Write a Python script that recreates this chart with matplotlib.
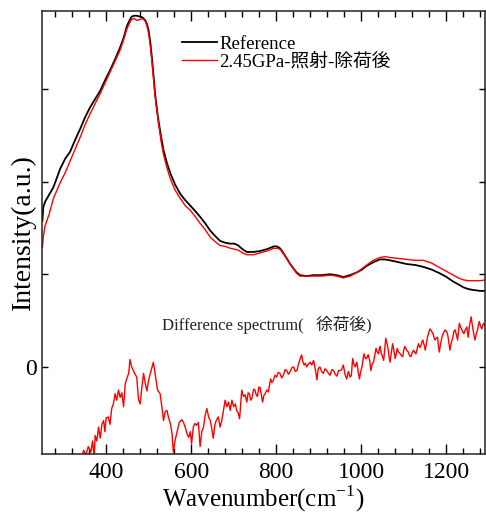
import matplotlib
matplotlib.use("Agg")
import matplotlib.pyplot as plt
from matplotlib.ticker import MultipleLocator, FixedLocator

plt.rcParams['font.family'] = ['Liberation Serif', 'Noto Sans CJK JP']

# spectra (arbitrary units, 0 = baseline of difference spectrum)
wn = [250, 252, 256, 266, 276, 292, 304, 315, 327, 339, 350, 362, 374, 386, 398,
      409, 421, 433, 441, 449, 455, 460, 466, 472, 480, 486, 492, 496, 500, 504,
      508, 512, 515, 519, 523, 529, 535, 543, 551, 562, 574, 586, 598, 610, 621,
      633, 645, 657, 668, 680, 692, 702, 711, 721, 731, 746, 762, 778, 794, 802,
      809, 817, 825, 833, 841, 848, 856, 872, 888, 907, 927, 942, 958, 974, 990,
      1002, 1013, 1029, 1044, 1056, 1068, 1088, 1107, 1127, 1146, 1166, 1185, 1201,
      1217, 1229, 1240, 1252, 1264, 1280, 1294]
ref = [1.58, 1.72, 1.78, 1.86, 1.94, 2.14, 2.25, 2.32, 2.45, 2.57, 2.69, 2.80, 2.89,
       2.98, 3.10, 3.20, 3.32, 3.45, 3.55, 3.68, 3.74, 3.78, 3.79, 3.79, 3.78, 3.77,
       3.74, 3.70, 3.63, 3.50, 3.32, 3.12, 2.95, 2.80, 2.66, 2.49, 2.34, 2.20, 2.09,
       1.97, 1.87, 1.80, 1.74, 1.68, 1.62, 1.55, 1.47, 1.41, 1.36, 1.34, 1.33, 1.33,
       1.31, 1.27, 1.24, 1.24, 1.25, 1.27, 1.30, 1.30, 1.28, 1.23, 1.17, 1.11, 1.06,
       1.02, 0.99, 0.98, 0.99, 0.99, 1.00, 0.99, 0.97, 0.99, 1.02, 1.05, 1.09, 1.13,
       1.16, 1.16, 1.15, 1.13, 1.11, 1.10, 1.08, 1.05, 1.01, 0.97, 0.92, 0.89, 0.86,
       0.84, 0.83, 0.82, 0.82]
irr = [1.29, 1.40, 1.52, 1.65, 1.82, 1.99, 2.10, 2.22, 2.35, 2.48, 2.61, 2.73, 2.84,
       2.95, 3.07, 3.18, 3.30, 3.42, 3.53, 3.65, 3.71, 3.75, 3.76, 3.74, 3.75, 3.76,
       3.73, 3.68, 3.60, 3.46, 3.28, 3.08, 2.93, 2.78, 2.64, 2.44, 2.29, 2.15, 2.03,
       1.91, 1.82, 1.74, 1.69, 1.62, 1.55, 1.48, 1.40, 1.35, 1.31, 1.30, 1.28, 1.27,
       1.26, 1.23, 1.21, 1.21, 1.23, 1.25, 1.28, 1.28, 1.27, 1.22, 1.17, 1.11, 1.06,
       1.01, 0.98, 0.98, 0.98, 0.98, 0.99, 0.98, 0.96, 0.98, 1.02, 1.06, 1.10, 1.15,
       1.18, 1.19, 1.18, 1.17, 1.16, 1.15, 1.15, 1.12, 1.07, 1.03, 0.99, 0.96, 0.94,
       0.93, 0.93, 0.93, 0.94]

diff_wn = [340, 347, 352, 358, 364, 368, 372, 374, 378, 382, 386, 390, 394, 397, 400,
           405, 409, 413, 417, 421, 425, 429, 433, 437, 441, 445, 449, 453, 456, 460,
           464, 468, 472, 476, 480, 484, 488, 492, 496, 500, 504, 507, 511, 515, 518,
           521, 527, 531, 535, 539, 543, 547, 551, 555, 558, 562, 566, 572, 578, 582,
           586, 590, 594, 598, 601, 605, 609, 613, 617, 621, 625, 629, 633, 637, 641,
           645, 648, 652, 656, 659, 664, 668, 672, 676, 680, 684, 688, 692, 696, 700,
           704, 707, 711, 714, 719, 723, 727, 731, 734, 737, 740, 743, 747, 750, 753,
           756, 759, 762, 765, 768, 771, 774, 778, 782, 785, 787, 790, 794, 797, 801,
           805, 809, 813, 817, 821, 825, 829, 833, 837, 841, 845, 849, 852, 856, 860,
           863, 866, 869, 872, 876, 880, 884, 888, 892, 896, 899, 903, 907, 911, 915,
           919, 923, 927, 931, 935, 939, 943, 947, 950, 954, 958, 962, 966, 970, 974,
           977, 980, 983, 986, 990, 993, 996, 999, 1002, 1005, 1007, 1010, 1013, 1015,
           1017, 1020, 1023, 1026, 1029, 1032, 1035, 1038, 1041, 1043, 1045, 1047, 1049,
           1051, 1053, 1056, 1058, 1061, 1064, 1066, 1068, 1071, 1074, 1077, 1080, 1083,
           1085, 1088, 1092, 1095, 1098, 1100, 1103, 1107, 1111, 1114, 1117, 1120, 1123,
           1126, 1129, 1132, 1135, 1138, 1140, 1143, 1145, 1148, 1151, 1154, 1156, 1159,
           1162, 1165, 1169, 1172, 1174, 1177, 1180, 1182, 1184, 1187, 1190, 1194, 1198,
           1201, 1203, 1206, 1209, 1212, 1216, 1218, 1221, 1224, 1227, 1229, 1231, 1234,
           1237, 1240, 1242, 1245, 1249, 1250, 1252, 1255, 1259, 1261, 1263, 1266, 1268,
           1271, 1274, 1276, 1278, 1281, 1284, 1287, 1289, 1292]
diff = [-1.00, -0.90, -0.95, -0.86, -0.92, -0.80, -0.98, -0.74, -0.80, -0.65, -0.77,
        -0.62, -0.58, -0.70, -0.55, -0.54, -0.62, -0.45, -0.40, -0.29, -0.36, -0.25,
        -0.33, -0.28, -0.43, -0.18, -0.12, -0.07, 0.08, 0.00, -0.04, -0.08, -0.11,
        -0.35, -0.40, -0.22, -0.07, -0.18, -0.26, -0.14, -0.07, -0.02, 0.05, -0.07,
        -0.16, -0.25, -0.29, -0.43, -0.58, -0.48, -0.47, -0.55, -0.61, -0.72, -0.92,
        -0.80, -0.72, -0.60, -0.57, -0.60, -0.65, -0.72, -0.76, -0.70, -0.83, -0.65,
        -0.61, -0.63, -0.60, -0.86, -0.70, -0.65, -0.52, -0.45, -0.54, -0.58, -0.65,
        -0.77, -0.62, -0.58, -0.54, -0.65, -0.58, -0.47, -0.36, -0.43, -0.38, -0.47,
        -0.36, -0.43, -0.40, -0.47, -0.50, -0.56, -0.25, -0.32, -0.30, -0.38, -0.28,
        -0.29, -0.36, -0.34, -0.24, -0.25, -0.30, -0.32, -0.22, -0.22, -0.30, -0.38,
        -0.31, -0.29, -0.25, -0.27, -0.18, -0.13, -0.17, -0.14, -0.09, -0.11, -0.06,
        -0.07, -0.12, -0.09, -0.03, -0.04, -0.08, -0.05, -0.01, 0.00, -0.05, -0.04,
        0.02, 0.08, 0.13, 0.05, 0.02, 0.04, 0.00, 0.03, 0.05, 0.02, 0.07, -0.02, -0.14,
        -0.02, 0.00, -0.05, -0.07, -0.02, -0.04, -0.07, -0.09, -0.03, -0.04, -0.08,
        -0.10, -0.04, -0.04, -0.03, 0.02, -0.08, -0.13, -0.05, -0.11, -0.09, 0.09, 0.03,
        0.00, 0.05, -0.05, -0.13, -0.05, 0.00, 0.10, 0.14, 0.09, 0.09, 0.12, 0.13, 0.07,
        -0.04, 0.03, 0.05, 0.12, 0.20, 0.16, 0.14, 0.20, 0.22, 0.15, 0.13, 0.10, 0.07,
        0.22, 0.31, 0.25, 0.18, 0.10, 0.05, 0.15, 0.25, 0.18, 0.09, 0.15, 0.20, 0.16,
        0.14, 0.12, 0.11, 0.18, 0.22, 0.18, 0.16, 0.12, 0.11, 0.15, 0.18, 0.16, 0.14,
        0.20, 0.25, 0.21, 0.22, 0.27, 0.29, 0.24, 0.18, 0.26, 0.32, 0.37, 0.41, 0.39,
        0.36, 0.31, 0.29, 0.31, 0.32, 0.22, 0.16, 0.25, 0.32, 0.37, 0.40, 0.38, 0.36,
        0.28, 0.18, 0.26, 0.32, 0.38, 0.40, 0.35, 0.29, 0.38, 0.47, 0.43, 0.40, 0.37,
        0.36, 0.40, 0.43, 0.38, 0.32, 0.45, 0.54, 0.47, 0.41, 0.33, 0.29, 0.36, 0.40,
        0.45, 0.49, 0.44, 0.41, 0.46, 0.47, 0.44]

fig = plt.figure(figsize=(4.86, 5.18), dpi=100)
ax = fig.add_axes([0.0864, 0.1236, 0.912, 0.855])

ax.plot(wn, ref, color="black", lw=1.3, label="Reference")
ax.plot(wn, irr, color="red", lw=1.0, label="2.45GPa-照射-除荷後")
ax.plot(diff_wn, diff, color="red", lw=1.0)

ax.set_xlim(249, 1292)
ax.set_ylim(-0.94, 3.84)

ax.xaxis.set_major_locator(MultipleLocator(200))
ax.xaxis.set_minor_locator(MultipleLocator(40))
ax.yaxis.set_major_locator(FixedLocator([0, 1, 2, 3]))
ax.set_yticklabels(["0", "", "", ""])
ax.tick_params(axis="x", which="major", direction="in", top=True, length=7, width=1,
               labelsize=17, pad=6)
ax.tick_params(axis="x", which="minor", direction="in", top=True, length=4, width=1)
ax.tick_params(axis="y", direction="in", right=True, length=4, width=1,
               labelsize=17, pad=4)
for s in ax.spines.values():
    s.set_linewidth(1.1)
    s.set_color("#222222")

ax.set_xlabel("Wavenumber(cm$^{\\mathregular{-1}}$)", fontsize=18, labelpad=0)
ax.set_ylabel("Intensity(a.u.)", fontsize=20, labelpad=-8)

ax.legend(loc="upper left", bbox_to_anchor=(0.315, 0.945), frameon=False,
          fontsize=13.5, handlelength=1.9, handletextpad=0.1, labelspacing=0.0,
          borderpad=0, borderaxespad=0)

ax.text(531, 0.45, "Difference spectrum(   徐荷後)", fontsize=12, va="center",
        ha="left", color="#222222")

fig.savefig("out.png", dpi=100)
